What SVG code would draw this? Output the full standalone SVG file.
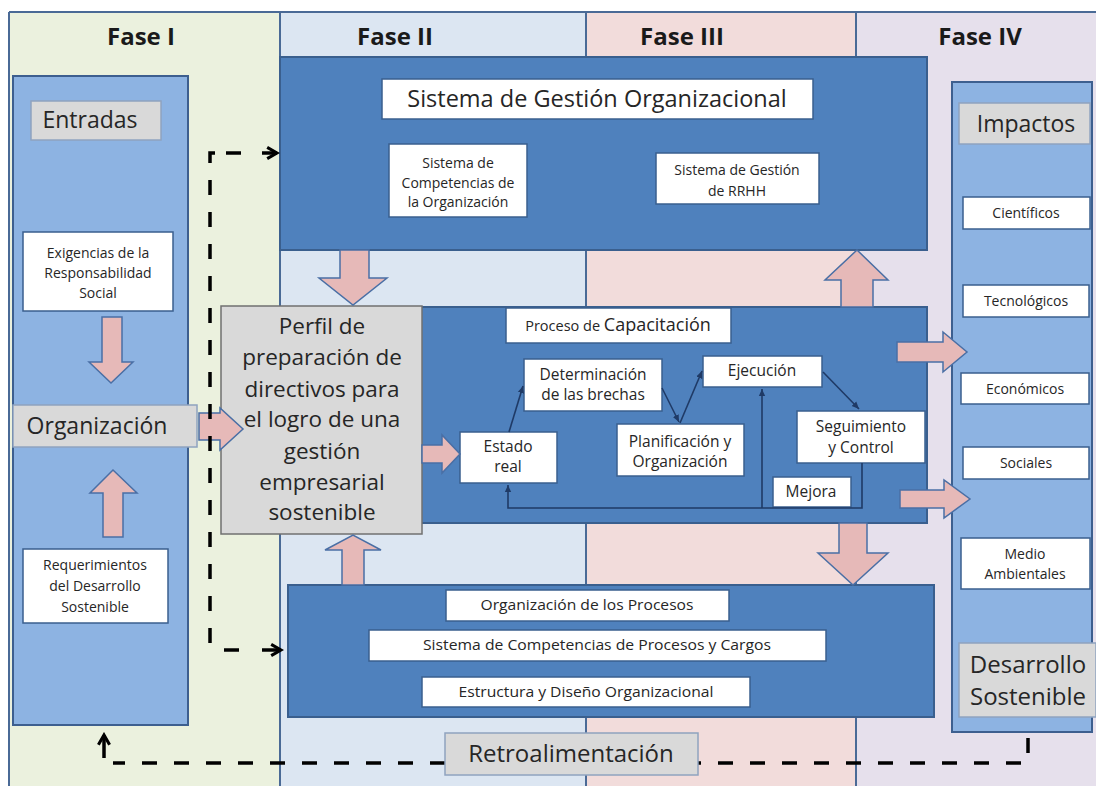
<svg xmlns="http://www.w3.org/2000/svg" width="1096" height="786" viewBox="0 0 1096 786">
<defs>
<style>
text{font-family:"Open Sans","Noto Sans","Liberation Sans",sans-serif;fill:#262626;text-anchor:middle}
.hd{font-weight:bold;font-size:24px;fill:#1a1a1a}
.col{fill:#8db3e2;stroke:#3d5f8f;stroke-width:2}
.dk{fill:#4f81bd;stroke:#3a5f8e;stroke-width:2}
.wb{fill:#ffffff;stroke:#3a5f8e;stroke-width:1.5}
.gb{fill:#d9d9d9;stroke:#8fa3bf;stroke-width:1.5}
.pk{fill:#e6b9b8;stroke:#4a6fa5;stroke-width:1.5}
.sm{font-size:14px}
.md{font-size:15.5px}
.lg{font-size:23px}
.pf{font-size:22.5px}
.dash{fill:none;stroke:#000;stroke-width:3.5;stroke-dasharray:15 17}
.fl{fill:none;stroke:#1f3a66;stroke-width:1.6}
.sep{stroke:#4a6a96;stroke-width:2}
</style>
<marker id="chev" viewBox="0 0 10 10" refX="8" refY="5" markerWidth="4" markerHeight="4" orient="auto" markerUnits="strokeWidth">
<path d="M1,1 L8,5 L1,9" fill="none" stroke="#000" stroke-width="2.2"/>
</marker>
<marker id="ah" viewBox="0 0 10 10" refX="9" refY="5" markerWidth="5" markerHeight="5" orient="auto" markerUnits="strokeWidth">
<path d="M0,1 L9,5 L0,9 Z" fill="#1f3a66"/>
</marker>
</defs>

<g id="background">
<rect x="0" y="0" width="1096" height="786" fill="#ffffff"/>
<rect x="9" y="12" width="271" height="774" fill="#ebf1de"/>
<rect x="280" y="12" width="306" height="774" fill="#dce6f2"/>
<rect x="586" y="12" width="270" height="774" fill="#f2dcdb"/>
<rect x="856" y="12" width="240" height="774" fill="#e6e0ec"/>
<line class="sep" x1="9" y1="12" x2="1096" y2="12"/>
<line class="sep" x1="9" y1="12" x2="9" y2="786"/>
<line class="sep" x1="280" y1="12" x2="280" y2="786"/>
<line class="sep" x1="586" y1="12" x2="586" y2="786"/>
<line class="sep" x1="856" y1="12" x2="856" y2="786"/>
<text class="hd" x="141" y="45">Fase I</text>
<text class="hd" x="395" y="45">Fase II</text>
<text class="hd" x="682" y="45">Fase III</text>
<text class="hd" x="980" y="45">Fase IV</text>
</g>

<g id="entradas">
<rect class="col" x="13" y="76" width="175" height="649"/>
<rect class="gb" x="31" y="101" width="130" height="39"/>
<text class="lg" x="90" y="128">Entradas</text>
</g>

<g id="exigencias">
<rect class="wb" x="23" y="232" width="150" height="79"/>
<text class="sm" x="98" y="258">Exigencias de la</text>
<text class="sm" x="98" y="278">Responsabilidad</text>
<text class="sm" x="98" y="298">Social</text>
</g>

<g id="requerimientos">
<rect class="wb" x="23" y="549" width="145" height="74"/>
<text class="sm" x="95" y="570">Requerimientos</text>
<text class="sm" x="95" y="591">del Desarrollo</text>
<text class="sm" x="95" y="612">Sostenible</text>
</g>

<g id="organizacion">
<rect class="gb" x="13" y="405" width="184" height="42"/>
<text class="lg" x="97" y="434">Organización</text>
</g>

<g id="sistema-gestion">
<rect class="dk" x="280" y="57" width="647" height="193"/>
<rect class="wb" x="382" y="79" width="431" height="40"/>
<text style="font-size:23.5px" x="597" y="107">Sistema de Gestión Organizacional</text>
</g>

<g id="competencias-org">
<rect class="wb" x="389" y="144" width="138" height="73"/>
<text class="sm" x="458" y="168">Sistema de</text>
<text class="sm" x="458" y="188">Competencias  de</text>
<text class="sm" x="458" y="207">la Organización</text>
</g>

<g id="rrhh">
<rect class="wb" x="656" y="153" width="163" height="51"/>
<text class="sm" x="737" y="175">Sistema de Gestión</text>
<text class="sm" x="737" y="196">de RRHH</text>
</g>

<g id="proceso">
<rect class="dk" x="380" y="307" width="547" height="216"/>
<rect class="wb" x="506" y="308" width="225" height="35"/>
<text x="618" y="331"><tspan style="font-size:14.5px">Proceso de </tspan><tspan style="font-size:18px">Capacitación</tspan></text>
</g>

<g id="perfil">
<rect x="221" y="306" width="201" height="228" fill="#d9d9d9" stroke="#707070" stroke-width="1.5"/>
<text class="pf" x="322" y="334">Perfil de</text>
<text class="pf" x="322" y="365">preparación de</text>
<text class="pf" x="322" y="397">directivos para</text>
<text class="pf" x="322" y="427">el logro de una</text>
<text class="pf" x="322" y="459">gestión</text>
<text class="pf" x="322" y="490">empresarial</text>
<text class="pf" x="322" y="520">sostenible</text>
</g>

<g id="determinacion">
<rect class="wb" x="524" y="359" width="138" height="52"/>
<text class="md" x="593" y="380">Determinación</text>
<text class="md" x="593" y="400">de las brechas</text>
</g>
<g id="ejecucion">
<rect class="wb" x="703" y="356" width="119" height="31"/>
<text class="md" x="762" y="376">Ejecución</text>
</g>
<g id="estado-real">
<rect class="wb" x="460" y="432" width="97" height="51"/>
<text class="md" x="508" y="452">Estado</text>
<text class="md" x="508" y="472">real</text>
</g>
<g id="planificacion">
<rect class="wb" x="617" y="424" width="127" height="52"/>
<text class="md" x="680" y="447">Planificación y</text>
<text class="md" x="680" y="467">Organización</text>
</g>
<g id="seguimiento">
<rect class="wb" x="797" y="411" width="128" height="52"/>
<text class="md" x="861" y="432">Seguimiento</text>
<text class="md" x="861" y="453">y Control</text>
</g>
<g id="mejora">
<rect class="wb" x="773" y="477" width="78" height="30"/>
<text class="md" x="811" y="497">Mejora</text>
</g>

<g id="procesos-org">
<rect class="dk" x="288" y="585" width="646" height="132"/>
<rect class="wb" x="446" y="590" width="283" height="31"/>
<text class="sm" x="587" y="610" textLength="213" lengthAdjust="spacingAndGlyphs">Organización de los Procesos</text>
<rect class="wb" x="369" y="630" width="457" height="31"/>
<text class="sm" x="597" y="650" textLength="348" lengthAdjust="spacingAndGlyphs">Sistema de Competencias de Procesos y Cargos</text>
<rect class="wb" x="422" y="677" width="328" height="30"/>
<text class="sm" x="586" y="697" textLength="255" lengthAdjust="spacingAndGlyphs">Estructura y Diseño Organizacional</text>
</g>

<g id="impactos">
<rect class="col" x="952" y="82" width="140" height="650"/>
<rect class="gb" x="959" y="103" width="131" height="41"/>
<text class="lg" x="1026" y="132">Impactos</text>
<rect class="wb" x="963" y="197" width="127" height="32"/>
<text class="sm" x="1026" y="218">Científicos</text>
<rect class="wb" x="963" y="285" width="126" height="32"/>
<text class="sm" x="1026" y="306">Tecnológicos</text>
<rect class="wb" x="961" y="373" width="128" height="31"/>
<text class="sm" x="1025" y="394">Económicos</text>
<rect class="wb" x="963" y="447" width="126" height="32"/>
<text class="sm" x="1026" y="468">Sociales</text>
<rect class="wb" x="961" y="538" width="129" height="51"/>
<text class="sm" x="1025" y="559">Medio</text>
<text class="sm" x="1025" y="579">Ambientales</text>
</g>

<g id="desarrollo-sostenible">
<rect class="gb" x="959" y="643" width="137" height="74"/>
<text style="font-size:24px" x="1028" y="673">Desarrollo</text>
<text style="font-size:24px" x="1028" y="705">Sostenible</text>
</g>

<g id="connectors">
<polygon class="pk" points="102,317 122,317 122,362 133,362 111,383 89,362 102,362"/>
<polygon class="pk" points="103,537 123,537 123,493 137,493 113,470 90,493 103,493"/>
<polygon class="pk" points="199,413 220,413 220,408 243,429 220,450 220,440 199,440"/>
<polygon class="pk" points="340,250 369,250 369,278 387,278 353,305 319,278 340,278"/>
<polygon class="pk" points="342,585 364,585 364,550 381,550 353,535 325,550 342,550"/>
<polygon class="pk" points="422,445 442,445 442,435 460,454 442,473 442,463 422,463"/>
<polygon class="pk" points="841,307 873,307 873,280 888,280 857,250 825,280 841,280"/>
<polygon class="pk" points="839,523 867,523 867,553 888,553 853,585 818,553 839,553"/>
<polygon class="pk" points="897,342 943,342 943,332 967,352 943,372 943,362 897,362"/>
<polygon class="pk" points="900,490 944,490 944,480 970,499 944,518 944,508 900,508"/>
<line class="fl" x1="509" y1="432" x2="523" y2="386" marker-end="url(#ah)"/>
<line class="fl" x1="662" y1="388" x2="679" y2="422" marker-end="url(#ah)"/>
<line class="fl" x1="680" y1="423" x2="702" y2="371" marker-end="url(#ah)"/>
<line class="fl" x1="823" y1="372" x2="859" y2="409" marker-end="url(#ah)"/>
<path class="fl" d="M862,463 V508 H508 V485" marker-end="url(#ah)"/>
<path class="fl" d="M762,508 V389" marker-end="url(#ah)"/>
<path class="dash" d="M210,643 V153 H226"/>
<path class="dash" d="M226,153 H248" stroke-dasharray="16 30"/>
<line x1="262" y1="153" x2="277" y2="153" stroke="#000" stroke-width="3.5" marker-end="url(#chev)"/>
<path class="dash" d="M224,650 H246"/>
<line x1="262" y1="650" x2="281" y2="650" stroke="#000" stroke-width="3.5" marker-end="url(#chev)"/>
<path class="dash" d="M1028,738 V763 H113" stroke-dasharray="17 15"/>
<line x1="104" y1="758" x2="104" y2="735" stroke="#000" stroke-width="3.5" marker-end="url(#chev)"/>
</g>

<g id="retroalimentacion">
<rect class="gb" x="445" y="733" width="253" height="42"/>
<text style="font-size:24px" x="571" y="762">Retroalimentación</text>
</g>
</svg>
